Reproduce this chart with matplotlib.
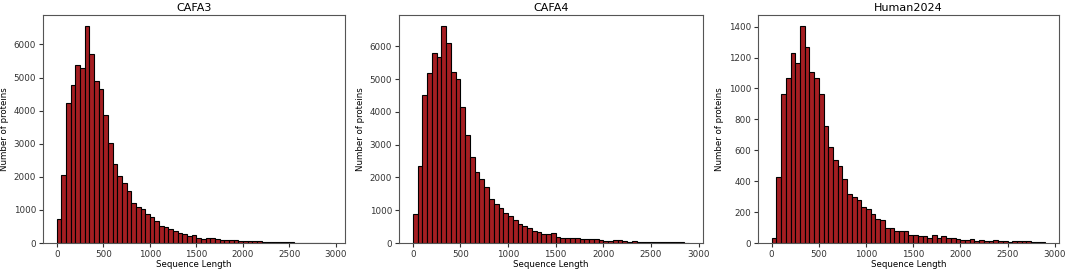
import matplotlib
matplotlib.use("Agg")
import matplotlib.pyplot as plt
import numpy as np

# bin width 50, starting at 0
bin_width = 50

cafa3_counts = [740, 2070, 4240, 4770, 5380, 5300, 6560, 5720, 4890, 4660,
                3860, 3030, 2400, 2010, 1820, 1580, 1220, 1100, 1030, 870,
                790, 650, 520, 480, 420, 350, 300, 270, 220, 250,
                150, 130, 140, 140, 120, 100, 100, 100, 100, 70,
                50, 50, 60, 50, 40, 40, 40, 30, 30, 30,
                20, 15, 15, 10, 10, 10, 10, 10, 5]

cafa4_counts = [880, 2340, 4500, 5170, 5800, 5680, 6620, 6100, 5230, 5000,
                4150, 3290, 2610, 2160, 1960, 1700, 1330, 1200, 1070, 920,
                830, 700, 590, 530, 470, 370, 340, 280, 260, 300,
                170, 150, 150, 150, 150, 120, 120, 120, 110, 90,
                70, 60, 80, 100, 50, 40, 50, 40, 40, 30,
                30, 30, 20, 30, 20, 20, 20, 10]

human_counts = [35, 430, 965, 1065, 1230, 1165, 1405, 1270, 1105, 1070,
                965, 760, 620, 540, 500, 415, 320, 295, 280, 230,
                220, 185, 155, 150, 100, 100, 75, 80, 80, 55,
                50, 45, 48, 30, 50, 35, 45, 35, 30, 25,
                20, 20, 25, 15, 18, 15, 15, 20, 15, 15,
                8, 10, 10, 10, 10, 5, 5, 5]

titles = ["CAFA3", "CAFA4", "Human2024"]
all_counts = [cafa3_counts, cafa4_counts, human_counts]

fig = plt.figure(figsize=(10.65, 2.72), dpi=100)
positions = [
    [0.0404, 0.1066, 0.2836, 0.838],
    [0.3746, 0.1066, 0.2854, 0.838],
    [0.7117, 0.1066, 0.2826, 0.838],
]

for pos, title, counts in zip(positions, titles, all_counts):
    ax = fig.add_axes(pos)
    edges = np.arange(len(counts) + 1) * bin_width
    ax.hist(edges[:-1], bins=edges, weights=counts,
            color="#a51e22", edgecolor="black", linewidth=0.8)
    ax.set_title(title, fontsize=8, pad=3)
    ax.set_xlabel("Sequence Length", fontsize=6.2, labelpad=1)
    ax.set_ylabel("Number of proteins", fontsize=6.2, labelpad=3)
    ax.set_xticks([0, 500, 1000, 1500, 2000, 2500, 3000])
    ax.tick_params(labelsize=6.3, length=3, pad=2, colors="#333333")
    for s in ax.spines.values():
        s.set_color("#555555")

fig.savefig("out.png", dpi=100)
